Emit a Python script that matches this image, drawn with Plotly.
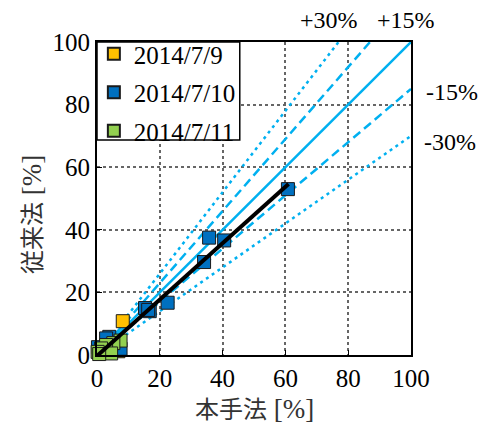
import plotly.graph_objects as go

# Comparison of the proposed method (本手法) and the conventional method (従来法)
series_names = ["2014/7/9", "2014/7/10", "2014/7/11"]
series_colors = ["#FFC000", "#0070C0", "#92D050"]

x_0709 = [6.8, 8.2]
y_0709 = [1.2, 10.8]

x_0710 = [60.8, 35.7, 40.5, 34.1, 22.5, 16.8, 15.3, 16.3, 3.9, 2.9, 7.5, 0.3]
y_0710 = [53.0, 37.5, 36.6, 29.7, 16.7, 14.0, 15.0, 14.4, 5.8, 5.3, 2.0, 2.5]

x_0711 = [7.5, 5.2, 2.9, 1.3, 0.2, 4.5, 0.7]
y_0711 = [4.6, 3.8, 3.2, 2.1, 1.0, 0.5, 0.3]

# Error bands around the 1:1 line
band_ratios = [1.30, 1.15, 1.00, 0.85, 0.70]
band_dashes = ["3px,4px", "9px,5px", "solid", "9px,5px", "3px,4px"]
band_labels = ["+30%", "+15%", "", "-15%", "-30%"]

# Least-squares fit over all points
fit_slope = 0.90
fit_intercept = -0.3
fit_range = [0.0, 61.0]

axis_max = 100
ticks = [0, 20, 40, 60, 80, 100]

serif = "Liberation Serif"
mixed = "Liberation Serif, Noto Sans CJK JP"
band_color = "#00B0F0"

fig = go.Figure()

for r, d in zip(band_ratios, band_dashes):
    x_end = min(axis_max, axis_max / r)
    fig.add_trace(go.Scatter(
        x=[0, x_end], y=[0, r * x_end], mode="lines",
        line=dict(color=band_color, width=2.5, dash=d),
        showlegend=False, hoverinfo="skip"))

for name, color, xs, ys in zip(series_names, series_colors,
                               [x_0709, x_0710, x_0711],
                               [y_0709, y_0710, y_0711]):
    fig.add_trace(go.Scatter(
        x=xs, y=ys, mode="markers", name=name, cliponaxis=False,
        legendgroup=name,
        marker=dict(symbol="square", size=13, color=color,
                    line=dict(color="#1a1a1a", width=1))))

fig.add_trace(go.Scatter(
    x=fit_range, y=[fit_intercept + fit_slope * v for v in fit_range],
    mode="lines", line=dict(color="black", width=4),
    showlegend=False, hoverinfo="skip"))

# Band labels placed outside the plotting area (paper coordinates)
label_pos = {"+30%": (0.738, 1.070, "center"), "+15%": (0.983, 1.070, "center"),
             "-15%": (1.040, 0.841, "left"), "-30%": (1.036, 0.681, "left")}
for lab in band_labels:
    if not lab:
        continue
    lx, ly, anc = label_pos[lab]
    fig.add_annotation(x=lx, y=ly, xref="paper", yref="paper", text=lab,
                       showarrow=False, xanchor=anc, yanchor="middle",
                       font=dict(family=serif, size=24, color="black"))

# Axis titles: the unit in a larger serif, the CJK words slightly smaller
title_font = dict(family=mixed, size=27, color="#333333")
fig.add_annotation(x=0.502, y=-0.172, xref="paper", yref="paper",
                   text="<span style='font-size:24px'>本手法</span> [%]",
                   showarrow=False, xanchor="center", yanchor="middle",
                   font=title_font)
fig.add_annotation(x=-0.207, y=0.447, xref="paper", yref="paper",
                   text="<span style='font-size:24px'>従来法</span> [%]",
                   showarrow=False, textangle=-90,
                   xanchor="center", yanchor="middle", font=title_font)

# Legend frame with white fill, drawn over the data
fig.add_shape(type="rect", xref="paper", yref="paper",
              x0=0, x1=(240 - 97) / 314.5, y0=(355 - 140) / 313, y1=1,
              line=dict(color="black", width=1.5), fillcolor="white",
              layer="above")

axis_common = dict(
    range=[0, axis_max], tickvals=ticks, showline=True, mirror=True,
    linecolor="black", linewidth=2, showgrid=True, gridcolor="#666666",
    griddash="dot", gridwidth=1.5, zeroline=False, ticks="inside",
    ticklen=5, tickcolor="black", tickwidth=1,
    tickfont=dict(family=serif, size=25, color="black"),
)

fig.update_xaxes(**axis_common)
fig.update_yaxes(**axis_common)

fig.update_layout(
    width=486, height=423,
    margin=dict(l=97, r=75, t=42, b=68),
    plot_bgcolor="white", paper_bgcolor="white",
    font=dict(family=serif),
    legend=dict(x=-0.01, y=1.035, xanchor="left", yanchor="top",
                bgcolor="rgba(0,0,0,0)", borderwidth=0,
                font=dict(family=serif, size=25, color="black"),
                tracegroupgap=3, itemsizing="constant"),
)

fig.write_html("out.html")
